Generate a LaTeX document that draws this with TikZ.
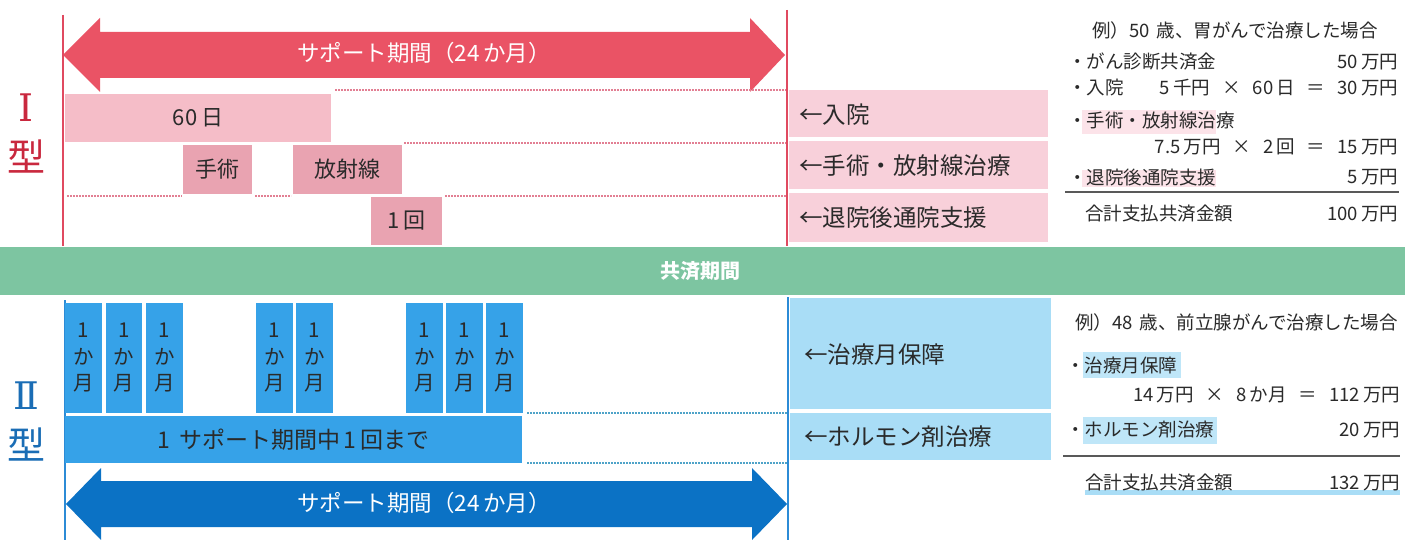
\documentclass[tikz,border=0pt]{standalone}
\usepackage{fontspec}
\setmainfont{Noto Sans CJK JP}
\newfontfamily\romanum{DejaVu Serif}
\definecolor{redArrow}{HTML}{EA5365}
\definecolor{redLine}{HTML}{E04A60}
\definecolor{pinkL}{HTML}{F5BDC8}
\definecolor{pinkM}{HTML}{E9A3B1}
\definecolor{pinkP}{HTML}{F8D0DA}
\definecolor{pinkDot}{HTML}{E27F93}
\definecolor{pinkHi}{HTML}{FCE3E9}
\definecolor{greenBand}{HTML}{7DC5A1}
\definecolor{blueBox}{HTML}{36A2E8}
\definecolor{blueArrow}{HTML}{0B72C5}
\definecolor{blueP}{HTML}{A9DDF6}
\definecolor{blueLine}{HTML}{2C8BD6}
\definecolor{blueDot}{HTML}{4FA3C8}
\definecolor{blueHi}{HTML}{BFE6F8}
\definecolor{typeRed}{HTML}{C9283E}
\definecolor{typeBlue}{HTML}{1A6DB5}
\definecolor{txt}{HTML}{2A2A2A}
\newcommand\opgap{\hspace{12pt}}
\tikzset{
  boxL/.style={fill=pinkL,anchor=north west,text=txt,font=\fontsize{22}{26}\selectfont},
  boxM/.style={fill=pinkM,anchor=north west,text=txt,font=\fontsize{22}{26}\selectfont},
  panelP/.style={fill=pinkP,anchor=north west},
  panelB/.style={fill=blueP,anchor=north west},
  paneltext/.style={anchor=west,text=txt,font=\fontsize{23.5}{27}\selectfont},
  monthbox/.style={fill=blueBox,anchor=north west,minimum width=36.5,minimum height=110,text=txt,align=center,font=\fontsize{20.5}{26.5}\selectfont},
  arrowtext/.style={text=white,font=\fontsize{22.5}{26}\selectfont},
  typelabel/.style={font=\fontsize{38}{40}\selectfont},
  romanlabel/.style={font=\romanum\fontsize{38}{40}\selectfont},
  info/.style={anchor=west,text=txt,font=\fontsize{18.5}{22}\selectfont},
  inforight/.style={anchor=east,text=txt,font=\fontsize{18.5}{22}\selectfont},
  pdots/.style={pinkDot,line width=2.2pt,dash pattern=on 1.6pt off 1.4pt},
  bdots/.style={blueDot,line width=2.2pt,dash pattern=on 1.6pt off 1.4pt},
}
\begin{document}
\begin{tikzpicture}[x=1pt,y=-1pt,every node/.style={inner sep=0pt,outer sep=0pt}]
\useasboundingbox (0,0) rectangle (1405,540);
\fill[white] (0,0) rectangle (1405,540);

% ---------- Type I ----------
\fill[redArrow] (63,55) -- (100,18) -- (100,32) -- (750,32) -- (750,18) -- (785,55)
  -- (750,92) -- (750,78) -- (100,78) -- (100,92) -- cycle;
\node[arrowtext] (sup1) at (424,53) {サポート期間（24\,か月）};

\node[panelP,minimum width=259,minimum height=47] (pp1) at (789,90) {};
\node[panelP,minimum width=259,minimum height=48] (pp2) at (789,141) {};
\node[panelP,minimum width=259,minimum height=49] (pp3) at (789,193) {};
\node[paneltext] (lp1) at (799,115) {←入院};
\node[paneltext] (lp2) at (799,166) {←手術・放射線治療};
\node[paneltext] (lp3) at (799,218) {←退院後通院支援};

\draw[pdots] (335,90) -- (787,90);
\draw[pdots] (404,143) -- (787,143);
\draw[pdots] (67,196) -- (182,196);
\draw[pdots] (255,196) -- (291,196);
\draw[pdots] (445,196) -- (787,196);

\node[boxL,minimum width=266,minimum height=48] (b60) at (65,94) {60\,日};
\node[boxM,minimum width=69,minimum height=49] (bop) at (183,145) {手術};
\node[boxM,minimum width=109,minimum height=49] (brad) at (293,145) {放射線};
\node[boxM,minimum width=71,minimum height=48] (bone) at (371,197) {1\,回};

\draw[redLine,line width=2pt] (63,15) -- (63,246);
\draw[redLine,line width=2pt] (787,10) -- (787,246);

\node[romanlabel,text=typeRed] (t1a) at (26,108) {Ⅰ};
\node[typelabel,text=typeRed] (t1b) at (26,157) {型};

% right info (Type I)
\fill[pinkHi] (1082,110) rectangle (1216,134);
\fill[pinkHi] (1082,170) rectangle (1216,187);
\node[info] (i1) at (1092,30) {例）50\, 歳、胃がんで治療した場合};
\node[info] (i2) at (1068,62) {・がん診断共済金};
\node[inforight] (i2r) at (1398,62) {50\,万円};
\node[info] (i3) at (1068,88) {・入院};
\node[inforight] (i3r) at (1398,88) {5\,千円\opgap×\opgap60\,日\opgap＝\opgap30\,万円};
\node[info] (i4) at (1068,120) {・手術・放射線治療};
\node[inforight] (i4r) at (1398,147) {7.5\,万円\opgap×\opgap2\,回\opgap＝\opgap15\,万円};
\node[info] (i5) at (1068,177) {・退院後通院支援};
\node[inforight] (i5r) at (1398,177) {5\,万円};
\draw[black!65,line width=1.8pt] (1065,192) -- (1399,192);
\node[info] (i6) at (1085,214) {合計支払共済金額};
\node[inforight] (i6r) at (1398,214) {100\,万円};

% ---------- band ----------
\fill[greenBand] (0,247) rectangle (1405,295);
\node[text=white,font=\bfseries\fontsize{20}{24}\selectfont] (band) at (700,271) {共済期間};

% ---------- Type II ----------
\draw[blueLine,line width=2pt] (65,300) -- (65,540);
\draw[blueLine,line width=2pt] (788,297) -- (788,540);

\node[panelB,minimum width=261,minimum height=111] (bp1) at (790,298) {};
\node[panelB,minimum width=261,minimum height=47] (bp2) at (790,413) {};
\node[paneltext] (lb1) at (804,355) {←治療月保障};
\node[paneltext] (lb2) at (804,437) {←ホルモン剤治療};

\foreach \x [count=\i] in {65,105.5,146,256,296,406,446,486}
  \node[monthbox] (m\i) at (\x,303) {1\\か\\月};

\node[fill=blueBox,anchor=north west,minimum width=457,minimum height=47,text=txt,
  font=\fontsize{23}{27}\selectfont] (bar) at (65,416) {1\, サポート期間中\,1\,回まで};

\draw[bdots] (527,413) -- (787,413);
\draw[bdots] (527,463) -- (787,463);

\fill[blueArrow] (66,504) -- (101,468) -- (101,481) -- (752,481) -- (752,468) -- (787,504)
  -- (752,540) -- (752,527) -- (101,527) -- (101,540) -- cycle;
\node[arrowtext] (sup2) at (424,503) {サポート期間（24\,か月）};

\node[romanlabel,text=typeBlue] (t2a) at (26,396) {Ⅱ};
\node[typelabel,text=typeBlue] (t2b) at (26,445) {型};

% right info (Type II)
\fill[blueHi] (1083,352) rectangle (1181,378);
\fill[blueHi] (1083,417) rectangle (1217,444);
\fill[blueP] (1085,490) rectangle (1400,495);
\node[info] (j1) at (1075,322) {例）48\, 歳、前立腺がんで治療した場合};
\node[info] (j2) at (1066,365) {・治療月保障};
\node[inforight] (j2r) at (1400,395) {14\,万円\opgap×\opgap8\,か月\opgap＝\opgap112\,万円};
\node[info] (j3) at (1066,430) {・ホルモン剤治療};
\node[inforight] (j3r) at (1400,430) {20\,万円};
\draw[black!65,line width=1.8pt] (1063,456) -- (1400,456);
\node[info] (j4) at (1085,483) {合計支払共済金額};
\node[inforight] (j4r) at (1400,483) {132\,万円};
\end{tikzpicture}
\end{document}
